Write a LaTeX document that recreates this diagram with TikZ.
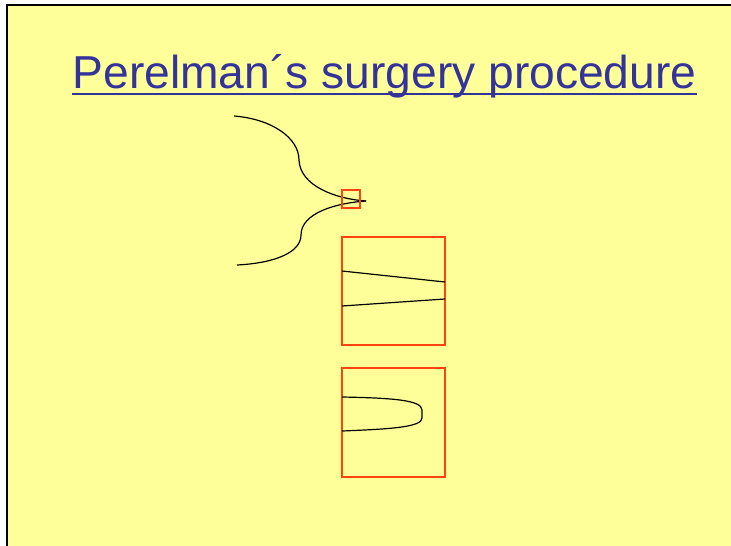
\documentclass[tikz,border=0pt]{standalone}
\usepackage{fontspec}
\setmainfont{Liberation Sans}
\usepackage{tikz}
\usetikzlibrary{positioning,calc}
\usepackage{xcolor}
\definecolor{slideyellow}{HTML}{FFFF99}
\definecolor{titleblue}{HTML}{333399}
\definecolor{boxred}{HTML}{FF4411}

\begin{document}
\begin{tikzpicture}[x=1pt, y=-1pt, line width=1.2pt,
    zoombox/.style={draw=boxred, line width=1.2pt},
    sheet/.style={line width=1.2pt, black}]
        \useasboundingbox (0,0) rectangle (731,546);
        \fill[white] (0,0) rectangle (731,546);

        % Slide background
        \fill[slideyellow] (7,5) rectangle (731,546);
        \draw[black, line width=2.2pt] (7,546) -- (7,5) -- (731,5);

        % Title
        \node[anchor=base west, inner sep=0pt, text=titleblue,
              font=\fontsize{46.2}{52}\selectfont] (title) at (72,88) {Perelman´s surgery procedure};
        \draw[titleblue, line width=2.4pt] ($(title.base west)+(0,6)$) -- ($(title.base east)+(0,6)$);

        % Neck pinching off
        \draw[sheet] (234,116) .. controls (272,119) and (299,138) .. (299,160)
                     .. controls (300,186) and (336,199) .. (366,201);
        \draw[sheet] (237,265) .. controls (276,263) and (301,252) .. (301,235)
                     .. controls (301,213) and (336,203) .. (366,201);
        \draw[zoombox] (342,190) rectangle (360,208);

        % Zoomed in: thin neck
        \draw[zoombox] (342,237) rectangle (445,345);
        \draw[sheet] (342,271) -- (445,282);
        \draw[sheet] (342,306) -- (445,299);

        % After surgery: capped off
        \draw[zoombox] (342,368) rectangle (445,477);
        \draw[sheet] (342,397) .. controls (392,398) and (422,400) .. (422,410)
                     -- (422,418) .. controls (422,427) and (392,429) .. (342,431);
\end{tikzpicture}
\end{document}
